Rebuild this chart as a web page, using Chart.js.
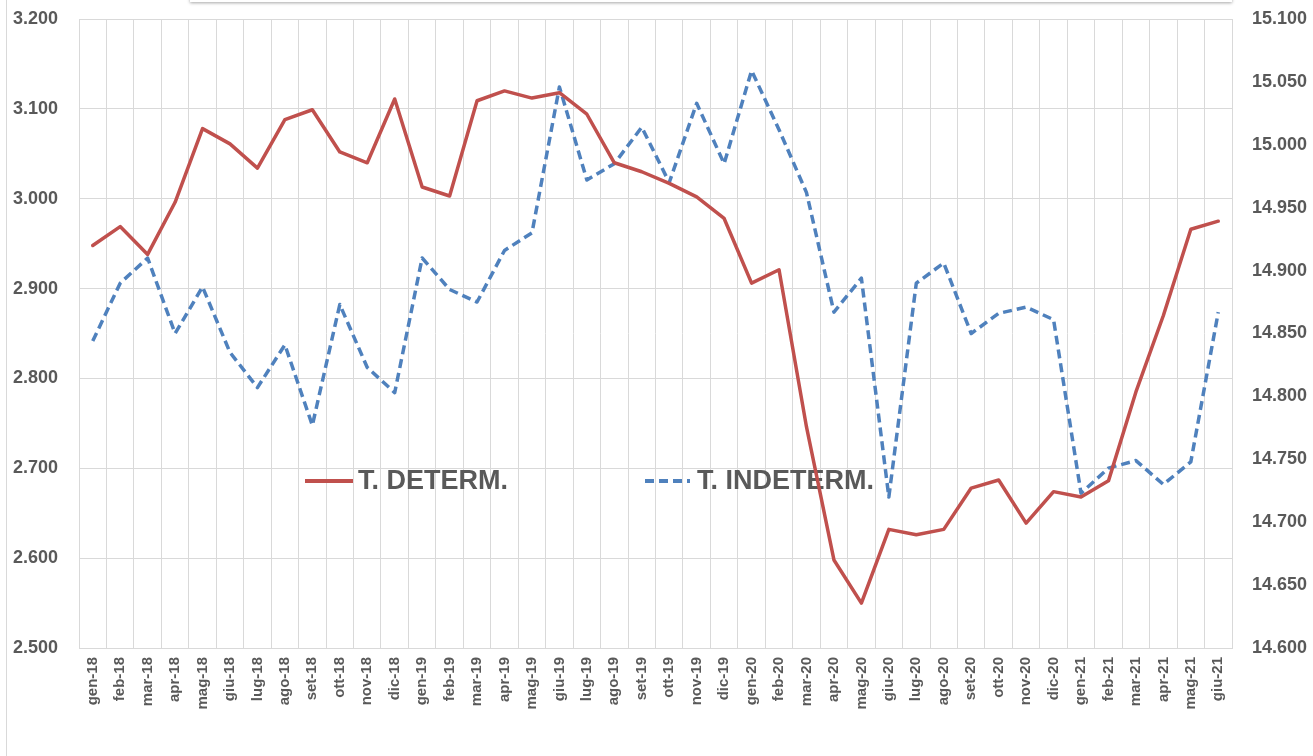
<!DOCTYPE html>
<html>
<head>
<meta charset="utf-8">
<script src="https://cdn.jsdelivr.net/npm/chart.js@4.4.1/dist/chart.umd.min.js"></script>
<style>
    html, body { margin: 0; padding: 0; background: #ffffff; }
    #wrap { position: relative; width: 1313px; height: 756px; overflow: hidden; }
    #frame { position: absolute; left: 6px; top: 0; width: 1px; height: 756px; background: #d9d9d9; }
    #titlebox { position: absolute; left: 190px; top: -40px; width: 1042px; height: 42px; background: #ffffff;
        box-shadow: 0 1px 3px rgba(0, 0, 0, 0.35); }
    canvas { position: absolute; left: 0; top: 0; }
</style>
</head>
<body>
<div id="wrap">
    <div id="frame"></div>
    <canvas id="chart" width="1313" height="756"></canvas>
    <div id="titlebox"></div>
</div>
<script>
var months = ["gen-18", "feb-18", "mar-18", "apr-18", "mag-18", "giu-18", "lug-18", "ago-18", "set-18", "ott-18", "nov-18", "dic-18",
    "gen-19", "feb-19", "mar-19", "apr-19", "mag-19", "giu-19", "lug-19", "ago-19", "set-19", "ott-19", "nov-19", "dic-19",
    "gen-20", "feb-20", "mar-20", "apr-20", "mag-20", "giu-20", "lug-20", "ago-20", "set-20", "ott-20", "nov-20", "dic-20",
    "gen-21", "feb-21", "mar-21", "apr-21", "mag-21", "giu-21"];

// migliaia, asse sinistro
var determ = [2948, 2969, 2938, 2996, 3078, 3061, 3034, 3088, 3099, 3052, 3040, 3111,
    3013, 3003, 3109, 3120, 3112, 3118, 3094, 3040, 3030, 3017, 3002, 2978,
    2906, 2921, 2746, 2598, 2550, 2632, 2626, 2632, 2678, 2687, 2639, 2674,
    2668, 2686, 2785, 2870, 2966, 2975];

// migliaia, asse destro
var indeterm = [14844, 14890, 14910, 14850, 14887, 14835, 14807, 14841, 14777, 14873, 14823, 14803,
    14910, 14885, 14875, 14916, 14930, 15046, 14972, 14985, 15014, 14970, 15033, 14985,
    15059, 15012, 14962, 14867, 14894, 14720, 14890, 14906, 14850, 14866, 14871, 14861,
    14723, 14743, 14749, 14730, 14748, 14867];

var leftTicks = { min: 2500, max: 3200, step: 100 };
var rightTicks = { min: 14600, max: 15100, step: 50 };
var seriesNames = ["T. DETERM.", "T. INDETERM."];

(function () {
    var RED = "#C0504D";
    var BLUE = "#4F81BD";
    var GRID = "#d9d9d9";
    var TEXT = "#595959";
    var FONT = "'Liberation Sans', Arial, sans-serif";

    function fmt(v) {
        var s = String(Math.round(v));
        return s.replace(/\B(?=(\d{3})+(?!\d))/g, ".");
    }

    // legenda dentro l'area del grafico, sotto le linee
    var midLegend = {
        id: "midLegend",
        beforeDatasetsDraw: function (chart) {
            var ctx = chart.ctx;
            ctx.save();
            ctx.font = "bold 27px " + FONT;
            ctx.fillStyle = TEXT;
            ctx.textBaseline = "middle";
            ctx.lineWidth = 4;

            ctx.strokeStyle = RED;
            ctx.setLineDash([]);
            ctx.beginPath();
            ctx.moveTo(305, 481);
            ctx.lineTo(353, 481);
            ctx.stroke();
            ctx.fillText(seriesNames[0], 358, 482);

            ctx.strokeStyle = BLUE;
            ctx.setLineDash([9, 5]);
            ctx.beginPath();
            ctx.moveTo(645, 481);
            ctx.lineTo(690, 481);
            ctx.stroke();
            ctx.setLineDash([]);
            ctx.fillText(seriesNames[1], 697, 482);
            ctx.restore();
        }
    };

    function fitY(width) {
        return function (s) {
            s.width = width;
            s.paddingTop = 0;
            s.paddingBottom = 0;
        };
    }

    new Chart(document.getElementById("chart"), {
        type: "line",
        data: {
            labels: months,
            datasets: [
                {
                    label: seriesNames[0],
                    data: determ,
                    yAxisID: "y",
                    borderColor: RED,
                    backgroundColor: RED,
                    borderWidth: 3.5,
                    pointRadius: 0,
                    tension: 0,
                    borderJoinStyle: "round",
                    borderCapStyle: "round",
                },
                {
                    label: seriesNames[1],
                    data: indeterm,
                    yAxisID: "y2",
                    borderColor: BLUE,
                    backgroundColor: BLUE,
                    borderWidth: 3.5,
                    borderDash: [9, 5],
                    pointRadius: 0,
                    tension: 0,
                    borderJoinStyle: "round",
                },
            ],
        },
        options: {
            responsive: false,
            animation: false,
            layout: { padding: { top: 19, left: 0, right: 0, bottom: 0 } },
            plugins: {
                legend: { display: false },
                tooltip: { enabled: false },
            },
            scales: {
                x: {
                    offset: true,
                    grid: { display: true, offset: true, color: GRID, lineWidth: 1, drawTicks: false },
                    border: { display: true, color: GRID },
                    ticks: {
                        autoSkip: false,
                        maxRotation: 90,
                        minRotation: 90,
                        padding: 9,
                        color: TEXT,
                        font: { family: FONT, size: 15, weight: "bold" },
                    },
                    afterFit: function (s) { s.height = 108; },
                },
                y: {
                    position: "left",
                    min: leftTicks.min,
                    max: leftTicks.max,
                    grid: { color: GRID, lineWidth: 1, drawTicks: false },
                    border: { display: true, color: GRID },
                    ticks: {
                        stepSize: leftTicks.step,
                        padding: 21,
                        color: TEXT,
                        font: { family: FONT, size: 18, weight: "bold" },
                        callback: function (v) { return fmt(v); },
                    },
                    afterFit: fitY(79),
                },
                y2: {
                    position: "right",
                    min: rightTicks.min,
                    max: rightTicks.max,
                    grid: { display: false, drawTicks: false },
                    border: { display: true, color: GRID },
                    ticks: {
                        stepSize: rightTicks.step,
                        padding: 20,
                        color: TEXT,
                        font: { family: FONT, size: 18, weight: "bold" },
                        callback: function (v) { return fmt(v); },
                    },
                    afterFit: fitY(81),
                },
            },
        },
        plugins: [midLegend],
    });
})();
</script>
</body>
</html>
